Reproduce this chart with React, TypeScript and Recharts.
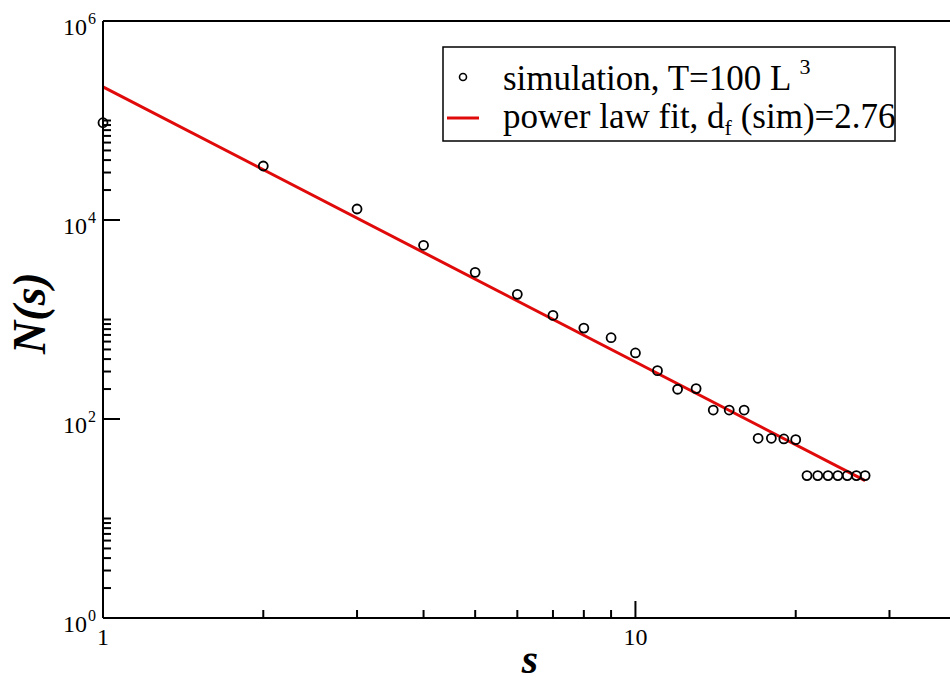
import React from 'react';
import { ComposedChart, Scatter, Line, XAxis, YAxis, Customized } from 'recharts';

const clusterSizes = [1, 2, 3, 4, 5, 6, 7, 8, 9, 10, 11, 12, 13, 14, 15, 16, 17, 18, 19, 20, 21, 22, 23, 24, 25, 26, 27];
const clusterCounts = [95000, 34900, 12900, 5570, 2980, 1790, 1100, 820, 656, 461, 306, 199, 202, 123, 123, 123, 64, 64, 63, 62, 27, 27, 27, 27, 27, 27, 27];
const fitSizes = [1, 27];
const fitCounts = [218000, 24];

const xTicks = [1, 2, 3, 4, 5, 6, 7, 8, 9, 10, 20, 30];
const xMajor = [1, 10];
const yTicks = [
  1, 2, 3, 4, 5, 6, 7, 8, 9, 10,
  100, 200, 300, 400, 500, 600, 700, 800, 900, 1000,
  10000, 20000, 30000, 40000, 50000, 60000, 70000, 80000, 90000, 100000,
  1000000,
];
const yMajor = [1, 100, 10000, 1000000];
const yMajorExp = ['0', '2', '4', '6'];

const simData = clusterSizes.map((s, i) => ({ s, N: clusterCounts[i] }));
const fitData = fitSizes.map((s, i) => ({ s, N: fitCounts[i] }));

const FONT = 'Liberation Serif';
const RED = '#e10a0a';

const BottomTick = (props: any) => {
  const { x, y, payload } = props;
  const v = payload.value;
  const major = xMajor.includes(v);
  return (
    <g>
      <line x1={x} y1={y} x2={x} y2={y - (major ? 17 : 8)} stroke="#000" strokeWidth={2} />
      {major && (
        <text x={x} y={y + 27} textAnchor="middle" fontFamily={FONT} fontSize={24} fill="#000">
          {String(v)}
        </text>
      )}
    </g>
  );
};

const TopTick = (props: any) => {
  const { x, y, payload } = props;
  const major = xMajor.includes(payload.value);
  return <line x1={x} y1={y} x2={x} y2={y + (major ? 17 : 8)} stroke="#000" strokeWidth={2} />;
};

const LeftTick = (props: any) => {
  const { x, y, payload } = props;
  const idx = yMajor.indexOf(payload.value);
  const major = idx >= 0;
  return (
    <g>
      <line x1={x} y1={y} x2={x + (major ? 17 : 8)} y2={y} stroke="#000" strokeWidth={2} />
      {major && (
        <g>
          <text x={x - 16} y={y + 13.5} textAnchor="end" fontFamily={FONT} fontSize={24} fill="#000">
            10
          </text>
          <text x={x - 15} y={y + 2.5} textAnchor="start" fontFamily={FONT} fontSize={16} fill="#000">
            {yMajorExp[idx]}
          </text>
        </g>
      )}
    </g>
  );
};

const RightTick = (props: any) => {
  const { x, y, payload } = props;
  const major = yMajor.includes(payload.value);
  return <line x1={x} y1={y} x2={x - (major ? 17 : 8)} y2={y} stroke="#000" strokeWidth={2} />;
};

const CircleShape = (props: any) => (
  <circle cx={props.cx} cy={props.cy} r={4.5} fill="none" stroke="#000" strokeWidth={1.8} />
);

const Decorations = () => (
  <g>
    <text
      transform="translate(45,313) rotate(-90)"
      textAnchor="middle"
      fontFamily={FONT}
      fontWeight="bold"
      fontStyle="italic"
      fontSize={46}
      fill="#000"
    >
      N(s)
    </text>
    <text x={530} y={673} textAnchor="middle" fontFamily={FONT} fontWeight="bold" fontStyle="italic" fontSize={42} fill="#000">
      s
    </text>
    <rect x={443} y={47} width={452} height={94} fill="#fff" stroke="#000" strokeWidth={1.5} />
    <circle cx={463} cy={77} r={3.5} fill="none" stroke="#000" strokeWidth={1.6} />
    <text x={503} y={90} fontFamily={FONT} fontSize={35} fill="#000">
      simulation, T=100 L
      <tspan dx={8} dy={-16} fontSize={22}>3</tspan>
    </text>
    <line x1={447} y1={118} x2={479} y2={118} stroke={RED} strokeWidth={3} />
    <text x={503} y={128} fontFamily={FONT} fontSize={35} fill="#000">
      power law fit, d
      <tspan dy={7} fontSize={22}>f</tspan>
      <tspan dy={-7} fontSize={35}> (sim)=2.76</tspan>
    </text>
  </g>
);

export default function App() {
  return (
    <div
      style={{
        position: 'fixed',
        left: 0,
        top: 0,
        width: 950,
        height: 682,
        overflow: 'hidden',
        background: '#fff',
      }}
    >
      <ComposedChart width={970} height={682} margin={{ top: 0, right: 0, bottom: 0, left: 0 }}>
        <XAxis
          xAxisId="b"
          orientation="bottom"
          dataKey="s"
          type="number"
          scale="log"
          domain={[1, 40]}
          ticks={xTicks}
          interval={0}
          height={64}
          tickSize={0}
          tickMargin={0}
          tickLine={false}
          tick={<BottomTick />}
          axisLine={{ stroke: '#000', strokeWidth: 2 }}
        />
        <XAxis
          xAxisId="t"
          orientation="top"
          dataKey="s"
          type="number"
          scale="log"
          domain={[1, 40]}
          ticks={xTicks}
          interval={0}
          height={21}
          tickSize={0}
          tickMargin={0}
          tickLine={false}
          tick={<TopTick />}
          axisLine={{ stroke: '#000', strokeWidth: 2 }}
        />
        <YAxis
          yAxisId="l"
          orientation="left"
          dataKey="N"
          type="number"
          scale="log"
          domain={[1, 1000000]}
          ticks={yTicks}
          interval={0}
          width={103}
          tickSize={0}
          tickMargin={0}
          tickLine={false}
          tick={<LeftTick />}
          axisLine={{ stroke: '#000', strokeWidth: 2 }}
        />
        <YAxis
          yAxisId="r"
          orientation="right"
          dataKey="N"
          type="number"
          scale="log"
          domain={[1, 1000000]}
          ticks={yTicks}
          interval={0}
          width={14}
          tickSize={0}
          tickMargin={0}
          tickLine={false}
          tick={<RightTick />}
          axisLine={{ stroke: '#000', strokeWidth: 2 }}
        />
        <Line
          xAxisId="b"
          yAxisId="l"
          data={fitData}
          dataKey="N"
          stroke={RED}
          strokeWidth={3}
          dot={false}
          activeDot={false}
          isAnimationActive={false}
        />
        <Scatter
          xAxisId="b"
          yAxisId="l"
          data={simData}
          dataKey="N"
          shape={<CircleShape />}
          isAnimationActive={false}
        />
        <Customized component={<Decorations />} />
      </ComposedChart>
    </div>
  );
}
